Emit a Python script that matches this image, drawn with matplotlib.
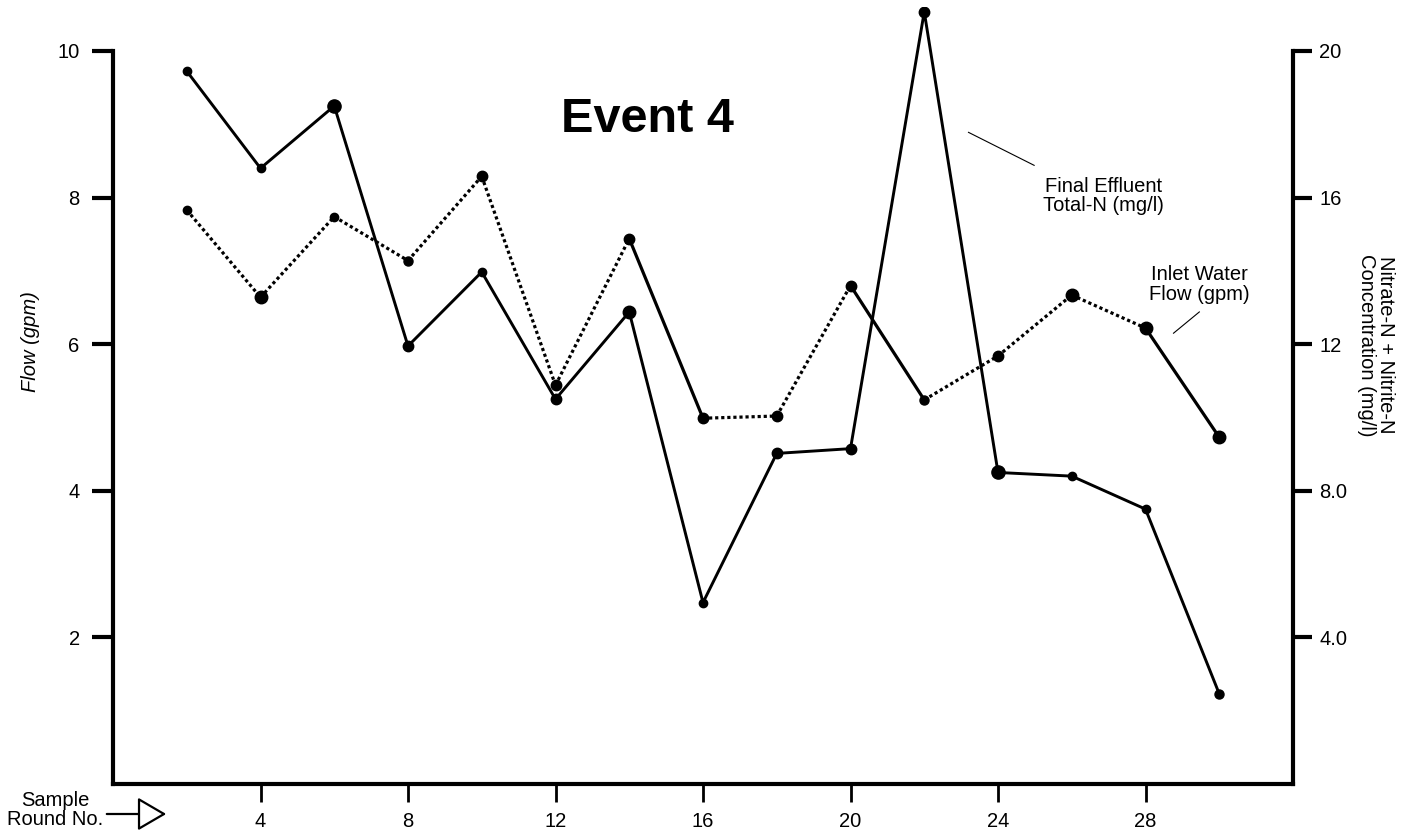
import matplotlib
matplotlib.use("Agg")
import matplotlib.pyplot as plt
from matplotlib.patches import FancyArrowPatch

plt.rcParams['font.family'] = ['Liberation Sans', 'DejaVu Sans']

# Sample rounds
rounds = [2, 4, 6, 8, 10, 12, 14, 16, 18, 20, 22, 24, 26, 28, 30]
# Inlet water flow (gpm), left axis
flow = [7.83, 6.64, 7.74, 7.14, 8.29, 5.44, 7.44, 4.99, 5.02, 6.80, 5.24, 5.84, 6.67, 6.22, 4.73]
# Final effluent total-N (mg/l), right axis
total_n = [19.45, 16.8, 18.5, 11.95, 13.97, 10.5, 12.88, 4.95, 9.02, 9.15, 21.07, 8.5, 8.4, 7.5, 2.46]

x_ticks = [4, 8, 12, 16, 20, 24, 28]
left_ticks = [2, 4, 6, 8, 10]
right_ticks = [4, 8, 12, 16, 20]
right_tick_labels = ['4.0', '8.0', '12', '16', '20']

# drawing style per segment / per point
flow_seg = ['d', 'd', 'd', 'd', 'd', 'd', 's', 'd', 'd', 's', 'd', 'd', 'd', 's']
flow_ms = [6, 9, 6, 6.5, 7.5, 7.5, 7.5, 7.5, 7.5, 7.5, 6.5, 7.5, 9, 9, 9]
tn_ms = [6, 6, 9.5, 7.5, 6, 7.5, 9, 6, 7.5, 7.5, 7.5, 9.5, 6, 6, 6.5]

FS = 14.5
W, H = 1416, 833
fig = plt.figure(figsize=(W / 100, H / 100), dpi=100)
ax = fig.add_axes([113 / W, 1 - 784 / H, (1293 - 113) / W, (784 - 7) / H])
ax2 = ax.twinx()

ax.set_xlim(0, 32)
ax.set_ylim(0, 10.6)
ax2.set_ylim(0, 21.2)

for a in (ax, ax2):
    a.set_facecolor('none')
    a.spines['top'].set_visible(False)
    for sp in a.spines.values():
        sp.set_linewidth(3)

ax.spines['right'].set_visible(False)
ax2.spines['left'].set_visible(False)
ax2.spines['bottom'].set_visible(False)
ax.spines['left'].set_bounds(0, 10)
ax2.spines['right'].set_bounds(0, 20)

ax.set_xticks(x_ticks)
ax.set_xticklabels([str(t) for t in x_ticks])
ax.set_yticks(left_ticks)
ax.set_yticklabels([str(t) for t in left_ticks])
ax2.set_yticks(right_ticks)
ax2.set_yticklabels(right_tick_labels)

ax.tick_params(axis='x', direction='out', length=13, width=2, pad=7, labelsize=FS)
ax.tick_params(axis='y', direction='out', length=15, width=3, pad=9, labelsize=FS)
ax2.tick_params(axis='y', direction='out', length=14, width=3, pad=5, labelsize=FS)

# Flow series
for i in range(len(rounds) - 1):
    ls = '-' if flow_seg[i] == 's' else (0, (1, 0.9))
    ax.plot(rounds[i:i + 2], flow[i:i + 2], color='black', lw=2.3,
            linestyle=ls, solid_capstyle='butt', dash_capstyle='butt', zorder=2)
for xv, yv, ms in zip(rounds, flow, flow_ms):
    ax.plot([xv], [yv], marker='o', color='black', markersize=ms, zorder=3)

# Total-N series
ax2.plot(rounds, total_n, color='black', lw=2.1, zorder=2)
for xv, yv, ms in zip(rounds, total_n, tn_ms):
    ax2.plot([xv], [yv], marker='o', color='black', markersize=ms, zorder=3)

# Title and annotations
ax.text(14.5, 9.06, 'Event 4', fontsize=35, fontweight='bold',
        ha='center', va='center')
ax.text(26.85, 8.02, 'Final Effluent\nTotal-N (mg/l)', fontsize=FS,
        ha='center', va='center', linespacing=1.05)
ax.plot([23.2, 24.98], [8.89, 8.44], color='black', lw=0.8)
ax.text(29.45, 6.81, 'Inlet Water\nFlow (gpm)', fontsize=FS,
        ha='center', va='center', linespacing=1.05)
ax.plot([28.76, 29.46], [6.15, 6.44], color='black', lw=0.8)

# Axis titles
fig.text(31 / W, 1 - 342 / H, 'Flow (gpm)', rotation=90, style='italic',
         fontsize=FS, ha='center', va='center')
fig.text(1376 / W, 1 - 345 / H, 'Nitrate-N + Nitrite-N\nConcentration (mg/l)',
         rotation=-90, fontsize=FS, ha='center', va='center', linespacing=1.0)

# Sample round marker
fig.text(55 / W, 1 - 810 / H, 'Sample\nRound No.', fontsize=FS,
         ha='center', va='center', linespacing=0.95)
arrow = FancyArrowPatch((104 / W, 1 - 814 / H), (169 / W, 1 - 814 / H),
                        transform=fig.transFigure,
                        arrowstyle='-|>,head_length=12,head_width=7',
                        mutation_scale=1.5, lw=1.6, fc='white', ec='black')
fig.patches.append(arrow)

fig.savefig('out.png', dpi=100)
